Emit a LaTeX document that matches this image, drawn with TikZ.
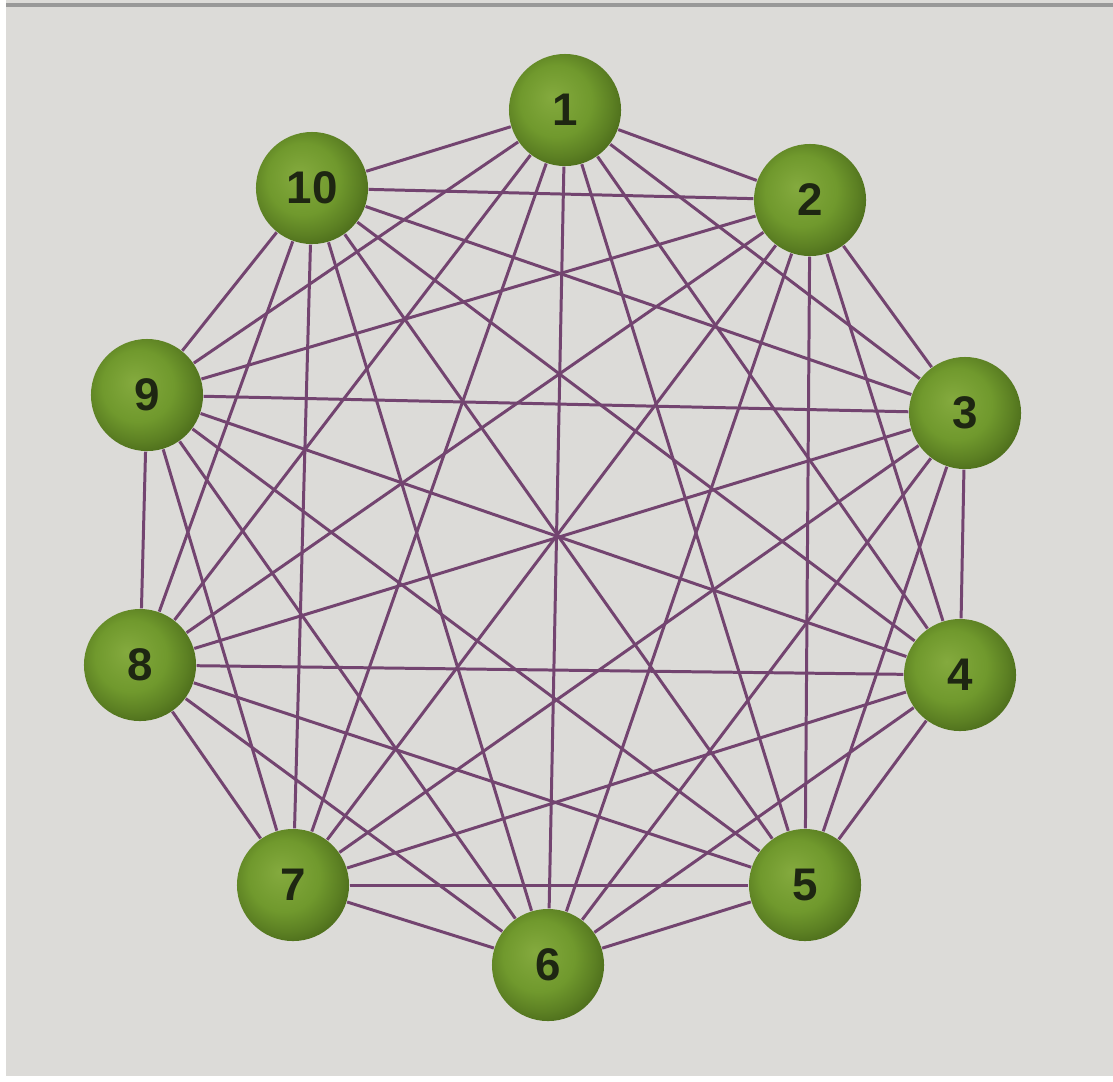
\documentclass[tikz,border=0pt]{standalone}
\usepackage{fontspec}
\setsansfont{Liberation Sans}
\definecolor{paper}{HTML}{DCDBD8}
\definecolor{edgec}{HTML}{734470}
\definecolor{gl}{HTML}{84AA3E}
\definecolor{gm}{HTML}{70992D}
\definecolor{gd}{HTML}{5C8023}
\definecolor{gdd}{HTML}{4A6A1A}
\definecolor{digit}{HTML}{1E2612}
\pgfdeclareradialshading{greenball}{\pgfpoint{-6bp}{6bp}}{color(0bp)=(gl); color(16bp)=(gm); color(24bp)=(gd); color(30bp)=(gdd); color(50bp)=(gdd)}
\tikzset{
  vtx/.style={circle, minimum size=1.12cm, inner sep=0pt, shading=greenball,
    font=\sffamily\bfseries\fontsize{13}{13}\selectfont, text=digit},
  edge/.style={draw=edgec, line width=0.85pt}
}
\begin{document}
\begin{tikzpicture}[x=0.01cm, y=-0.01cm]
\useasboundingbox (0,0) rectangle (1113,1081);
\fill[white] (0,0) rectangle (1113,1081);
\fill[paper] (6,0) rectangle (1113,1076);
\draw[gray!80, line width=1.2pt] (6,5) -- (1113,5);
\node[vtx] (n1) at (565,110) {1};
\node[vtx] (n2) at (810,200) {2};
\node[vtx] (n3) at (965,413) {3};
\node[vtx] (n4) at (960,675) {4};
\node[vtx] (n5) at (805,885) {5};
\node[vtx] (n6) at (548,965) {6};
\node[vtx] (n7) at (293,885) {7};
\node[vtx] (n8) at (140,665) {8};
\node[vtx] (n9) at (147,395) {9};
\node[vtx] (n10) at (312,188) {10};
\foreach \i in {1,...,9}{
  \pgfmathtruncatemacro\s{\i+1}
  \foreach \j in {\s,...,10}{
    \draw[edge] (n\i) -- (n\j);
  }
}
\end{tikzpicture}
\end{document}
